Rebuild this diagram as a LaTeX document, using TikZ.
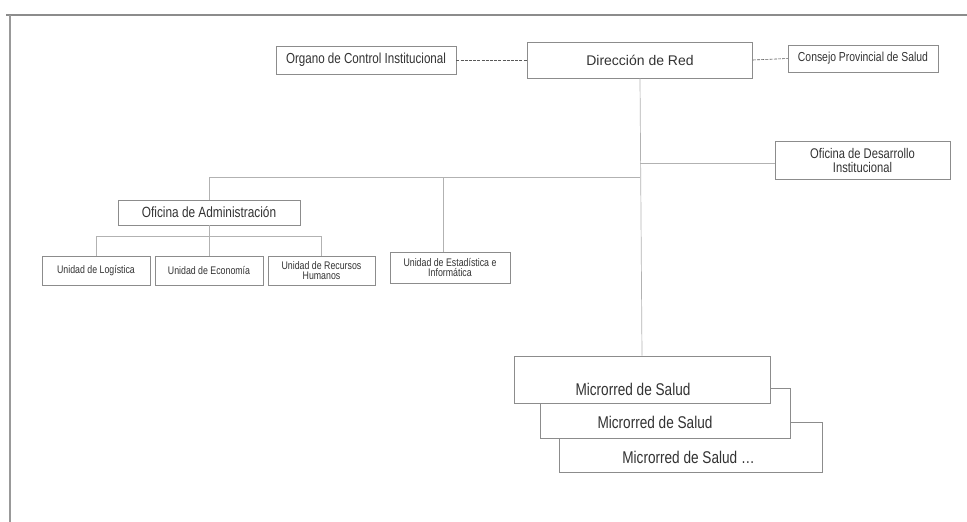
\documentclass[tikz,border=0pt]{standalone}
\usepackage{fontspec}
\setmainfont{Liberation Sans}
\newfontfamily\nrw[FakeStretch=0.8]{Liberation Sans}
\begin{document}
\begin{tikzpicture}[x=1pt,y=-1pt,
  orgbox/.style={draw=black!45, fill=white, inner sep=1pt, align=center, text=black!80, line width=0.6pt},
  unitbox/.style={orgbox, minimum height=29, font=\nrw\fontsize{11}{10}\selectfont},
  mrbox/.style={orgbox, minimum width=256, minimum height=47},
  mrtext/.style={font=\nrw\fontsize{17}{19}\selectfont, text=black!80, inner sep=0pt},
  conn/.style={draw=black!30, line width=0.7pt},
  dconn/.style={draw=black!65, line width=0.6pt, dash pattern=on 3pt off 1.2pt},
]
\useasboundingbox (0,0) rectangle (967,522);
\draw[black!45, line width=1.6pt] (6,15) -- (967,15);
\draw[black!40, line width=1.6pt] (10,15) -- (10,522);

\node[orgbox, minimum width=225, minimum height=36, font=\fontsize{14}{16}\selectfont] (dir) at (640,60) {Dirección de Red};
\node[orgbox, minimum width=180, minimum height=28, font=\nrw\fontsize{14.5}{16}\selectfont] (oci) at (366,60) {Organo de Control Institucional};
\node[orgbox, minimum width=150, minimum height=27, font=\nrw\fontsize{13}{15}\selectfont] (cps) at (863,58.5) {Consejo Provincial de Salud};
\node[orgbox, minimum width=175, minimum height=38, font=\nrw\fontsize{14}{14}\selectfont] (odi) at (862.5,160) {Oficina de Desarrollo\\Institucional};
\node[orgbox, minimum width=182, minimum height=25, font=\nrw\fontsize{14.8}{16}\selectfont] (oad) at (209,212.5) {Oficina de Administración};
\node[unitbox, minimum width=108] (ulo) at (96,270.5) {Unidad de Logística};
\node[unitbox, minimum width=108] (uec) at (209,270.5) {Unidad de Economía};
\node[unitbox, minimum width=107] (urh) at (321.5,270.5) {Unidad de Recursos\\Humanos};
\node[unitbox, minimum width=120, minimum height=31] (uei) at (450,267.5) {Unidad de Estadística e\\Informática};

\node[mrbox, minimum width=263, minimum height=50,
  label={[mrtext, xshift=-2pt, yshift=-10pt]center:Microrred de Salud \dots}] (mr3) at (690.5,447) {};
\node[mrbox, minimum width=250, minimum height=50,
  label={[mrtext, xshift=-10pt, yshift=-9pt]center:Microrred de Salud}] (mr2) at (665,413) {};
\node[mrbox, minimum width=256, minimum height=47,
  label={[mrtext, xshift=-9pt, yshift=-10pt]center:Microrred de Salud}] (mr1) at (642,379.5) {};

\coordinate (j1) at (640,163);
\coordinate (j2) at (640,177);
\coordinate (j3) at (443,177);
\coordinate (j4) at (209,236);

\draw[dconn] (oci.east) -- (dir.west);
\draw[dconn] (dir.east) -- (cps.west);
\draw[conn] (dir.south) -- (mr1.north);
\draw[conn] (j1) -- (j1 -| odi.west);
\draw[conn] (j2) -| (oad.north);
\draw[conn] (j3) -- (j3 |- uei.north);
\draw[conn] (oad.south) -- (j4);
\draw[conn] (j4 -| ulo.center) -- (j4 -| urh.center);
\draw[conn] (j4 -| ulo.center) -- (ulo.north);
\draw[conn] (j4) -- (uec.north);
\draw[conn] (j4 -| urh.center) -- (urh.north);
\end{tikzpicture}
\end{document}
